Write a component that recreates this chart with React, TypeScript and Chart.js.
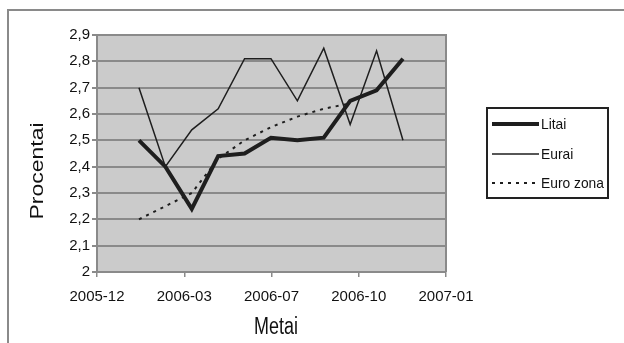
import React, { useEffect, useRef } from "react";
import { Chart, registerables } from "chart.js";

Chart.register(...registerables);

// Data
const categories = ["2006-01", "2006-02", "2006-03", "2006-04", "2006-05", "2006-06", "2006-07", "2006-08", "2006-09", "2006-10", "2006-11"];
const litai = [2.5, 2.4, 2.24, 2.44, 2.45, 2.51, 2.5, 2.51, 2.65, 2.69, 2.81];
const eurai = [2.7, 2.4, 2.54, 2.62, 2.81, 2.81, 2.65, 2.85, 2.56, 2.84, 2.5];
const euroZona = [2.2, 2.25, 2.3, 2.43, 2.5, 2.55, 2.59, 2.62, 2.64, null, null];
const xTickLabels = ["2005-12", "2006-03", "2006-07", "2006-10", "2007-01"];
const seriesNames = ["Litai", "Eurai", "Euro zona"];
const yTitle = "Procentai";
const xTitle = "Metai";

const X_MIN = -1.59;
const X_MAX = 11.63;
const FONT = "'Liberation Sans', Arial, sans-serif";
const LINE = "#1e1e1e";

const toPoints = (arr: (number | null)[]) => arr.map((v, i) => ({ x: i, y: v }));

const decor = {
  id: "decor",
  beforeDraw(chart: any) {
    const { ctx, chartArea: a } = chart;
    ctx.save();
    ctx.fillStyle = "#ffffff";
    ctx.fillRect(0, 0, chart.width, chart.height);
    ctx.fillStyle = "#cbcbcb";
    ctx.fillRect(a.left, a.top, a.right - a.left, a.bottom - a.top);
    ctx.restore();
  },
  beforeDatasetsDraw(chart: any) {
    const { ctx, chartArea: a } = chart;
    ctx.save();
    ctx.strokeStyle = "#8a8a8a";
    ctx.lineWidth = 2;
    ctx.beginPath();
    ctx.moveTo(a.left, a.top);
    ctx.lineTo(a.right, a.top);
    ctx.lineTo(a.right, a.bottom);
    ctx.stroke();
    ctx.restore();
  },
  afterDraw(chart: any) {
    const { ctx } = chart;
    ctx.save();
    // outer frame (top and left edges)
    ctx.strokeStyle = "#8a8a8a";
    ctx.lineWidth = 2;
    ctx.beginPath();
    ctx.moveTo(8, 343);
    ctx.lineTo(8, 10);
    ctx.lineTo(624, 10);
    ctx.stroke();

    // axis titles (narrow look)
    ctx.fillStyle = "#111";
    ctx.font = `23px ${FONT}`;
    ctx.textAlign = "center";
    ctx.textBaseline = "middle";
    ctx.save();
    ctx.translate(276, 328);
    ctx.scale(0.78, 1);
    ctx.fillText(xTitle, 0, 0);
    ctx.restore();
    ctx.save();
    ctx.translate(38, 171);
    ctx.rotate(-Math.PI / 2);
    ctx.scale(1, 0.78);
    ctx.fillText(yTitle, 0, 0);
    ctx.restore();

    // legend
    const bx = 487, by = 108, bw = 121, bh = 90;
    ctx.fillStyle = "#ffffff";
    ctx.fillRect(bx, by, bw, bh);
    ctx.strokeStyle = "#222";
    ctx.lineWidth = 2;
    ctx.strokeRect(bx, by, bw, bh);
    const rows = [124, 154, 183];
    chart.data.datasets.forEach((ds: any, i: number) => {
      const y = rows[i];
      ctx.strokeStyle = ds.borderColor;
      ctx.lineWidth = ds.borderWidth;
      ctx.setLineDash(ds.borderDash || []);
      ctx.beginPath();
      ctx.moveTo(492, y);
      ctx.lineTo(539, y);
      ctx.stroke();
      ctx.setLineDash([]);
      ctx.fillStyle = "#111";
      ctx.font = `15px ${FONT}`;
      ctx.textAlign = "left";
      ctx.textBaseline = "middle";
      ctx.save();
      ctx.translate(541, y + 1);
      ctx.scale(0.92, 1);
      ctx.fillText(ds.label, 0, 0);
      ctx.restore();
    });
    ctx.restore();
  },
};

export default function App() {
  const ref = useRef<HTMLCanvasElement | null>(null);
  useEffect(() => {
    if (!ref.current) return;
    const chart = new Chart(ref.current, {
      type: "line",
      data: {
        datasets: [
          {
            label: seriesNames[0],
            data: toPoints(litai),
            borderColor: LINE,
            borderWidth: 4,
            pointRadius: 0,
            tension: 0,
          },
          {
            label: seriesNames[1],
            data: toPoints(eurai),
            borderColor: LINE,
            borderWidth: 1.5,
            pointRadius: 0,
            tension: 0,
          },
          {
            label: seriesNames[2],
            data: toPoints(euroZona),
            borderColor: LINE,
            borderWidth: 2,
            borderDash: [3, 5],
            pointRadius: 0,
            tension: 0,
            spanGaps: false,
          },
        ],
      } as any,
      plugins: [decor],
      options: {
        animation: false,
        responsive: false,
        maintainAspectRatio: false,
        layout: { padding: { left: 8, top: 35, right: 178, bottom: 0 } },
        plugins: { legend: { display: false }, tooltip: { enabled: false } },
        scales: {
          x: {
            type: "linear",
            min: X_MIN,
            max: X_MAX,
            afterBuildTicks: (scale: any) => {
              const n = xTickLabels.length;
              scale.ticks = xTickLabels.map((_, k) => ({ value: X_MIN + (k * (X_MAX - X_MIN)) / (n - 1) }));
            },
            afterFit: (scale: any) => {
              scale.height = 71;
            },
            grid: { drawOnChartArea: false, drawTicks: true, tickLength: 5, color: "#8a8a8a", lineWidth: 1.5 },
            border: { color: "#8a8a8a", width: 2 },
            ticks: {
              autoSkip: false,
              maxRotation: 0,
              padding: 11,
              color: "#111",
              font: { family: FONT, size: 15 },
              callback: (_v: any, i: number) => xTickLabels[i],
            },
          },
          y: {
            min: 2,
            max: 2.9,
            afterFit: (scale: any) => {
              scale.width = 89;
            },
            grid: { color: "#8a8a8a", lineWidth: 2, tickLength: 5, drawTicks: true },
            border: { color: "#8a8a8a", width: 2 },
            ticks: {
              stepSize: 0.1,
              padding: 2,
              color: "#111",
              font: { family: FONT, size: 15 },
              callback: (v: any) => {
                const n = Number(v);
                if (Math.abs(n - Math.round(n)) < 1e-9) return String(Math.round(n));
                return n.toFixed(1).replace(".", ",");
              },
            },
          },
        },
      } as any,
    });
    return () => chart.destroy();
  }, []);
  return (
    <div style={{ position: "fixed", left: 0, top: 0, width: 624, height: 343, background: "#fff" }}>
      <canvas ref={ref} width={624} height={343} style={{ display: "block", width: 624, height: 343 }} />
    </div>
  );
}
